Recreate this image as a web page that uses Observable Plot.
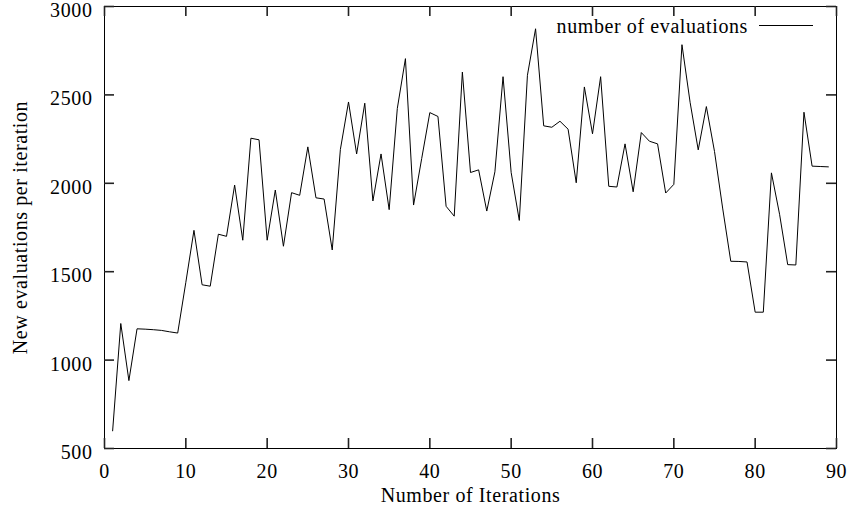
<!DOCTYPE html>
<html>
<head>
<meta charset="utf-8">
<script src="https://cdn.jsdelivr.net/npm/d3@7"></script>
<script src="https://cdn.jsdelivr.net/npm/@observablehq/plot@0.6"></script>
<style>
  html, body { margin: 0; padding: 0; background: white; }
  svg text { letter-spacing: 0.6px; }
</style>
</head>
<body>
<div id="chart"></div>
<script>
const iterations = [1,2,3,4,5,6,7,8,9,10,11,12,13,14,15,16,17,18,19,20,21,22,23,24,25,26,27,28,29,30,31,32,33,34,35,36,37,38,39,40,41,42,43,44,45,46,47,48,49,50,51,52,53,54,55,56,57,58,59,60,61,62,63,64,65,66,67,68,69,70,71,72,73,74,75,76,77,78,79,80,81,82,83,84,85,86,87,88,89];
const evaluations = [600,1207,884,1177,1175,1172,1168,1160,1153,1440,
  1734,1426,1418,1712,1700,1990,1678,2255,2246,1678,
  1962,1644,1947,1932,2206,1918,1911,1623,2191,2460,
  2166,2453,1900,2166,1851,2423,2705,1877,2140,2400,
  2378,1870,1814,2629,2061,2076,1843,2065,2603,2061,
  1790,2611,2874,2325,2317,2351,2306,2003,2545,2280,
  2603,1983,1979,2223,1952,2287,2238,2223,1945,1994,
  2784,2458,2189,2434,2180,1860,1559,1558,1555,1271,
  1271,2059,1825,1540,1538,2402,2097,2095,2093];
const xTicks = [0,10,20,30,40,50,60,70,80,90];
const yTicks = [500,1000,1500,2000,2500,3000];
const seriesName = "number of evaluations";
const xLabel = "Number of Iterations";
const yLabel = "New evaluations per iteration";

const data = iterations.map((x, i) => ({x, y: evaluations[i]}));

const W = 849, H = 507, mL = 104, mR = 13, mT = 6, mB = 59;
const tickLen = 10;
const frameW = W - mL - mR, frameH = H - mT - mB;

const legend = (index, scales, values, dims) => {
  const g = d3.create("svg:g");
  const right = dims.width - dims.marginRight;
  const top = dims.marginTop;
  g.append("text")
    .attr("x", right - 88).attr("y", top + 27)
    .attr("text-anchor", "end")
    .attr("fill", "black")
    .text(seriesName);
  g.append("line")
    .attr("x1", right - 77).attr("x2", right - 23)
    .attr("y1", top + 19.5).attr("y2", top + 19.5)
    .attr("stroke", "black").attr("stroke-width", 1);
  return g.node();
};

const tickStyle = {stroke: "#222", strokeWidth: 1.6};

const chart = Plot.plot({
  width: W,
  height: H,
  marginLeft: mL,
  marginRight: mR,
  marginTop: mT,
  marginBottom: mB,
  style: {fontFamily: "'Liberation Serif', serif", fontSize: "20px", background: "white", color: "black", overflow: "visible"},
  x: {domain: [0, 90]},
  y: {domain: [500, 3000]},
  marks: [
    Plot.axisX(xTicks, {anchor: "bottom", tickSize: 0, tickPadding: 15, tickFormat: d => String(d), label: xLabel, labelAnchor: "center", labelArrow: "none", labelOffset: 53}),
    Plot.axisY(yTicks, {anchor: "left", tickSize: 0, tickPadding: 12, dy: 4, tickFormat: d => String(d), label: yLabel, labelAnchor: "center", labelArrow: "none", labelOffset: 92}),
    Plot.lineY(data, {x: "x", y: "y", stroke: "black", strokeWidth: 1}),
    Plot.frame({stroke: "black", strokeWidth: 1}),
    // inward mirrored ticks on all four sides
    Plot.ruleX(xTicks, {x: d => d, insetTop: frameH - tickLen, ...tickStyle}),
    Plot.ruleX(xTicks, {x: d => d, insetBottom: frameH - tickLen, ...tickStyle}),
    Plot.ruleY(yTicks, {y: d => d, insetRight: frameW - tickLen, ...tickStyle}),
    Plot.ruleY(yTicks, {y: d => d, insetLeft: frameW - tickLen, ...tickStyle}),
    legend
  ]
});
document.getElementById("chart").appendChild(chart);
</script>
</body>
</html>
